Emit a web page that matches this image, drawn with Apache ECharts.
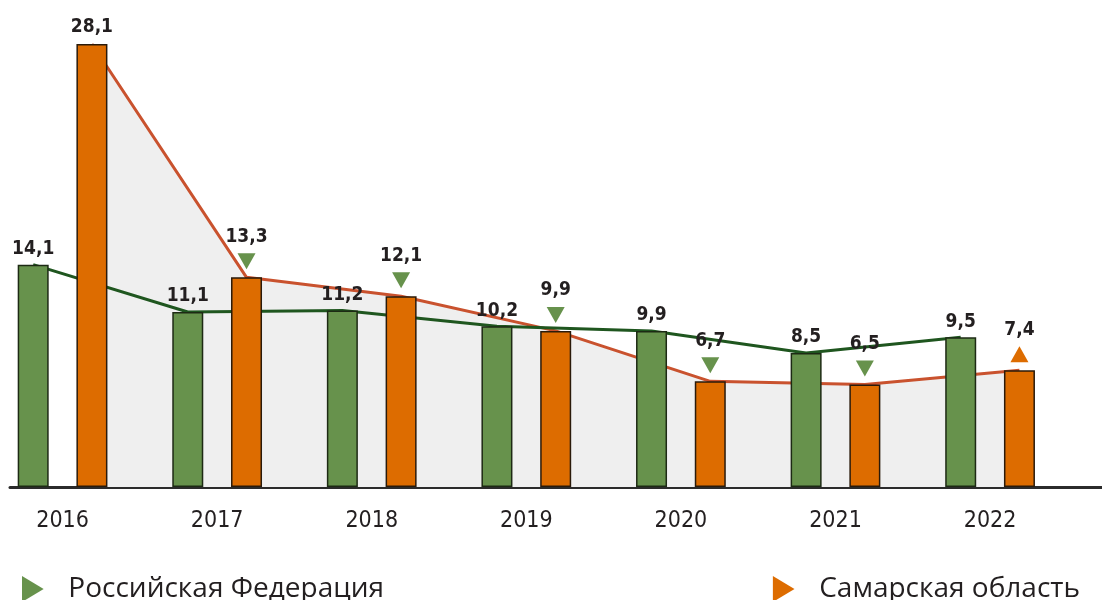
<!DOCTYPE html>
<html lang="ru">
<head>
    <meta charset="UTF-8">
    <script src="https://cdn.jsdelivr.net/npm/echarts@6/dist/echarts.min.js"></script>
    <title>Российская Федерация / Самарская область</title>
    <style>
        html, body { margin: 0; padding: 0; background: #fff; }
        #main { width: 1102px; height: 600px; }
    </style>
</head>
<body>
<div id="main"></div>
<script>
    var years = ['2016', '2017', '2018', '2019', '2020', '2021', '2022'];
    var rfValues = [14.1, 11.1, 11.2, 10.2, 9.9, 8.5, 9.5];
    var samValues = [28.1, 13.3, 12.1, 9.9, 6.7, 6.5, 7.4];
    // стрелка над столбцом Самарской области
    var samTrend = [null, 'down', 'down', 'down', 'down', 'down', 'up'];

    var RF = 'Российская Федерация';
    var SAM = 'Самарская область';
    var SHIFT = 0.19;   // сдвиг столбца от центра года (в долях шага)
    var greenBar = '#67924c', orangeBar = '#dd6c00';
    var greenLine = '#1f561f', redLine = '#c9522e';
    var textColor = '#231f20';
    var labelFont = '"DejaVu Sans Condensed", "DejaVu Sans", sans-serif';

    function fmt(v) { return v.toFixed(1).replace('.', ','); }

    var rfPoints = rfValues.map(function (v, i) { return [i - SHIFT, v]; });
    var samPoints = samValues.map(function (v, i) { return [i + SHIFT, v]; });

    var samBarData = samValues.map(function (v, i) {
        return { value: [i + SHIFT, v], label: { distance: samTrend[i] ? 31 : 7 } };
    });
    var downData = [], upData = [];
    samValues.forEach(function (v, i) {
        if (samTrend[i] === 'down') downData.push([i + SHIFT, v]);
        if (samTrend[i] === 'up') upData.push([i + SHIFT, v]);
    });

    var barLabel = {
        show: true,
        position: 'top',
        distance: 6,
        color: textColor,
        fontFamily: labelFont,
        fontWeight: 'bold',
        fontSize: 19,
        formatter: function (p) { return fmt(p.value[1]); }
    };

    var legendText = { color: textColor, fontSize: 28, fontFamily: '"Open Sans", sans-serif', padding: [0, 0, 0, 19] };

    var myChart = echarts.init(document.getElementById('main'));
    var option = {
        animation: false,
        backgroundColor: '#fff',
        grid: { left: 10, right: 0, top: 14, bottom: 113 },
        xAxis: {
            type: 'value',
            min: -0.34,
            max: 6.724,
            splitLine: { show: false },
            axisTick: { show: false },
            axisLine: { show: true, lineStyle: { color: '#2b2b2b', width: 3 } },
            axisLabel: {
                customValues: [0, 1, 2, 3, 4, 5, 6],
                formatter: function (v) { return years[v] || ''; },
                margin: 23,
                color: textColor,
                fontFamily: labelFont,
                fontSize: 23
            }
        },
        yAxis: {
            type: 'value',
            min: 0,
            max: 30,
            show: false
        },
        legend: [
            {
                left: 17,
                top: 570,
                itemWidth: 23,
                itemHeight: 26,
                icon: 'path://M0,0 L10,6 L0,12 Z',
                data: [{ name: RF, itemStyle: { color: greenBar, borderWidth: 0 } }],
                textStyle: legendText
            },
            {
                right: 17,
                top: 570,
                itemWidth: 23,
                itemHeight: 26,
                icon: 'path://M0,0 L10,6 L0,12 Z',
                data: [{ name: SAM, itemStyle: { color: orangeBar, borderWidth: 0 } }],
                textStyle: legendText
            }
        ],
        series: [
            {
                name: 'area',
                type: 'line',
                data: samPoints,
                symbol: 'none',
                z: 1,
                lineStyle: { color: redLine, width: 3 },
                areaStyle: { color: '#efefef', opacity: 1 },
                silent: true
            },
            {
                name: 'rfLine',
                type: 'line',
                data: rfPoints,
                symbol: 'none',
                z: 2,
                lineStyle: { color: greenLine, width: 3 },
                silent: true
            },
            {
                name: RF,
                type: 'bar',
                data: rfPoints,
                barWidth: 31,
                barGap: '-100%',
                z: 3,
                itemStyle: { color: greenBar, borderColor: '#1d2a14', borderWidth: 1.5 },
                label: barLabel
            },
            {
                name: SAM,
                type: 'bar',
                data: samBarData,
                barWidth: 31,
                barGap: '-100%',
                z: 3,
                itemStyle: { color: orangeBar, borderColor: '#2a1a0a', borderWidth: 1.5 },
                label: barLabel
            },
            {
                name: 'down',
                type: 'scatter',
                data: downData,
                symbol: 'path://M0,0 L10,0 L5,9 Z',
                symbolSize: [18, 16],
                symbolOffset: [0, -16],
                z: 4,
                itemStyle: { color: greenBar, opacity: 1 },
                silent: true
            },
            {
                name: 'up',
                type: 'scatter',
                data: upData,
                symbol: 'path://M5,0 L10,9 L0,9 Z',
                symbolSize: [18, 16],
                symbolOffset: [0, -16],
                z: 4,
                itemStyle: { color: orangeBar, opacity: 1 },
                silent: true
            }
        ]
    };
    myChart.setOption(option);
</script>
</body>
</html>
